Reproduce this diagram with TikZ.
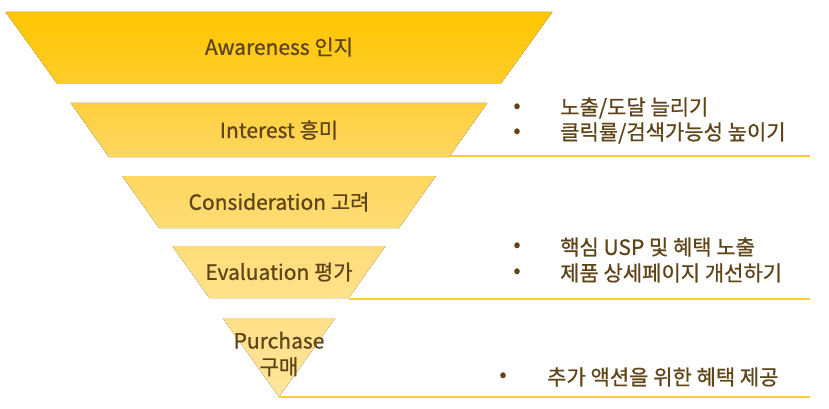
\documentclass[tikz,border=0pt]{standalone}
\usepackage{fontspec}
\setmainfont{Noto Sans CJK KR}[FakeBold=0.8]
\usepackage{xcolor}
\usepackage{tikz}
\usetikzlibrary{calc}

\definecolor{funneltext}{HTML}{5E4416}
\definecolor{funnelline}{HTML}{FFCC33}
\tikzset{
  stagelabel/.style={text=funneltext, font=\fontsize{21}{26}\selectfont, align=center, inner sep=0pt},
  dotlabel/.style={text=funneltext, font=\fontsize{21}{26}\selectfont, inner sep=0pt},
  textlabel/.style={text=funneltext, font=\fontsize{21}{26}\selectfont, anchor=west, inner sep=0pt},
  underline/.style={draw=funnelline, line width=1.2pt}
}

\begin{document}
\begin{tikzpicture}[x=1pt,y=-1pt]
\useasboundingbox (0,0) rectangle (829,409);

% Funnel stages
\fill[top color={rgb,255:red,255;green,198;blue,0}, bottom color={rgb,255:red,255;green,205;blue,44}]
  (5.6,12) -- (552.4,12) -- (500.6,84) -- (57.4,84) -- cycle;
\fill[top color={rgb,255:red,255;green,207;blue,64}, bottom color={rgb,255:red,255;green,215;blue,94}]
  (70.7,103) -- (487.3,103) -- (449.0,157) -- (109.0,157) -- cycle;
\fill[top color={rgb,255:red,255;green,214;blue,96}, bottom color={rgb,255:red,255;green,220;blue,116}]
  (122.1,176) -- (435.9,176) -- (399.0,228) -- (159.0,228) -- cycle;
\fill[top color={rgb,255:red,255;green,220;blue,120}, bottom color={rgb,255:red,255;green,226;blue,138}]
  (172.4,246) -- (385.6,246) -- (348.7,298) -- (209.3,298) -- cycle;
\fill[top color={rgb,255:red,255;green,224;blue,136}, bottom color={rgb,255:red,255;green,230;blue,156}]
  (222.7,318) -- (335.3,318) -- (279,397) -- cycle;

% Stage names
\node[stagelabel] (aware) at (279,47) {Awareness 인지};
\node[stagelabel] (interest) at (279,130) {Interest 흥미};
\node[stagelabel] (consider) at (279,202) {Consideration 고려};
\node[stagelabel] (eval) at (279,272) {Evaluation 평가};
\node[stagelabel] (purchase) at (279,354) {Purchase\\구매};

% Underlines
\coordinate (interestend) at (449.0,156);
\coordinate (evalend) at (348.7,299);
\coordinate (purchaseend) at (279,397);
\draw[underline] (interestend) -- (810,156);
\draw[underline] (evalend) -- (810,299);
\draw[underline] (purchaseend) -- (810,397);

% Interest notes
\node[dotlabel] (dota) at (517,108) {•};
\node[dotlabel] (dotb) at (517,133) {•};
\node[textlabel] (notea) at (560,108) {노출/도달 늘리기};
\node[textlabel] (noteb) at (560,133) {클릭률/검색가능성 높이기};

% Evaluation notes
\node[dotlabel] (dotc) at (517,247) {•};
\node[dotlabel] (dotd) at (517,273) {•};
\node[textlabel] (notec) at (560,247) {핵심 USP 및 혜택 노출};
\node[textlabel] (noted) at (560,273) {제품 상세페이지 개선하기};

% Purchase note
\node[dotlabel] (dote) at (503,377) {•};
\node[textlabel] (notee) at (547,377) {추가 액션을 위한 혜택 제공};
\end{tikzpicture}
\end{document}
